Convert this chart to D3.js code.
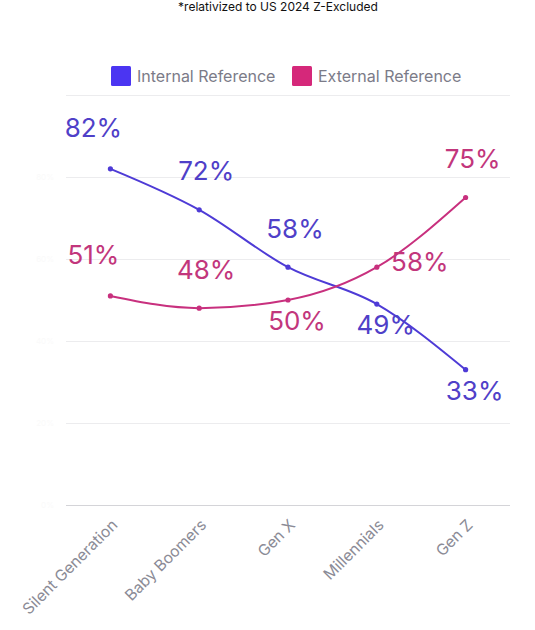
<!DOCTYPE html>
<html>
<head>
<meta charset="utf-8">
<script src="https://cdn.jsdelivr.net/npm/d3@7"></script>
<style>
  body { margin: 0; background: #fff; }
  svg { display: block; font-family: Inter, "Noto Sans", sans-serif; }
</style>
</head>
<body>
<svg id="chart" width="535" height="630"></svg>
<script>
const categories = ["Silent Generation", "Baby Boomers", "Gen X", "Millennials", "Gen Z"];
const internalValues = [82, 72, 58, 49, 33];
const externalValues = [51, 48, 50, 58, 75];
const seriesNames = ["Internal Reference", "External Reference"];
const yTicks = [0, 20, 40, 60, 80, 100];
const internalPlacement = ["topLeft", "top", "top", "bottom", "bottom"];
const externalPlacement = ["topLeft", "top", "bottom", "right", "top"];
const title = "*relativized to US 2024 Z-Excluded";

const W = 535, H = 630;
const margin = { left: 66, right: 25, top: 95, bottom: 125 };
const svg = d3.select("#chart");

const x = d3.scaleBand().domain(categories).range([margin.left, W - margin.right]);
const y = d3.scaleLinear().domain([0, 100]).range([H - margin.bottom, margin.top]);

const series = [
  { name: seriesNames[0], values: internalValues, place: internalPlacement, line: "#4e3bd6", dot: "#4e3bd6", label: "#4f40c8", legend: "#4b35f2" },
  { name: seriesNames[1], values: externalValues, place: externalPlacement, line: "#c8307e", dot: "#c8307e", label: "#c2367c", legend: "#d5287a" }
];

// title
svg.append("text").attr("x", 278).attr("y", 11).attr("text-anchor", "middle")
  .attr("font-size", 12).attr("fill", "#111").text(title);

// grid
const grid = svg.append("g");
grid.selectAll("line").data(yTicks).join("line")
  .attr("x1", margin.left).attr("x2", W - margin.right)
  .attr("y1", d => y(d) + 0.5).attr("y2", d => y(d) + 0.5)
  .attr("stroke", d => d === 0 ? "#d4d4d8" : "#ececee").attr("stroke-width", 1);

// nearly invisible y tick labels
svg.append("g").selectAll("text").data(yTicks.slice(0, -1)).join("text")
  .attr("x", 54).attr("y", d => y(d) + 3).attr("text-anchor", "end")
  .attr("font-size", 8).attr("fill", "#fafafa").text(d => d + "%");

// x axis labels
const xAxis = d3.axisBottom(x).tickSize(0).tickPadding(0);
const gx = svg.append("g").attr("transform", `translate(0,${H - margin.bottom})`).call(xAxis);
gx.select(".domain").remove();
gx.selectAll("text")
  .attr("font-family", "Inter, sans-serif").attr("font-size", 15.6).attr("fill", "#8b8b96")
  .attr("text-anchor", "end").attr("dy", null).attr("y", 0)
  .attr("transform", "translate(8,21) rotate(-45)");

// lines
const line = d3.line()
  .x((d, i) => x(categories[i]) + x.bandwidth() / 2)
  .y(d => y(d))
  .curve(d3.curveMonotoneX);

const offsets = {
  topLeft: [-17, -41],
  top: [7, -39],
  bottom: [9, 21],
  right: [43, -6]
};

series.forEach(s => {
  const g = svg.append("g");
  g.append("path").attr("d", line(s.values)).attr("fill", "none")
    .attr("stroke", s.line).attr("stroke-width", 2);
  g.selectAll("circle").data(s.values).join("circle")
    .attr("cx", (d, i) => x(categories[i]) + x.bandwidth() / 2)
    .attr("cy", d => y(d)).attr("r", 2.6).attr("fill", s.dot);
  g.selectAll("text").data(s.values).join("text")
    .attr("x", (d, i) => x(categories[i]) + x.bandwidth() / 2 + offsets[s.place[i]][0])
    .attr("y", (d, i) => y(d) + offsets[s.place[i]][1])
    .attr("dy", "0.36em").attr("text-anchor", "middle")
    .attr("font-size", 26).attr("fill", s.label).text(d => d + "%");
});

// legend
const legendPos = [111, 292];
const lg = svg.append("g");
series.forEach((s, i) => {
  lg.append("rect").attr("x", legendPos[i]).attr("y", 66).attr("width", 20).attr("height", 20)
    .attr("rx", 1.5).attr("fill", s.legend);
  lg.append("text").attr("x", legendPos[i] + 26).attr("y", 76).attr("dy", "0.35em")
    .attr("font-size", 16).attr("fill", "#7b7b88").text(s.name);
});
</script>
</body>
</html>
